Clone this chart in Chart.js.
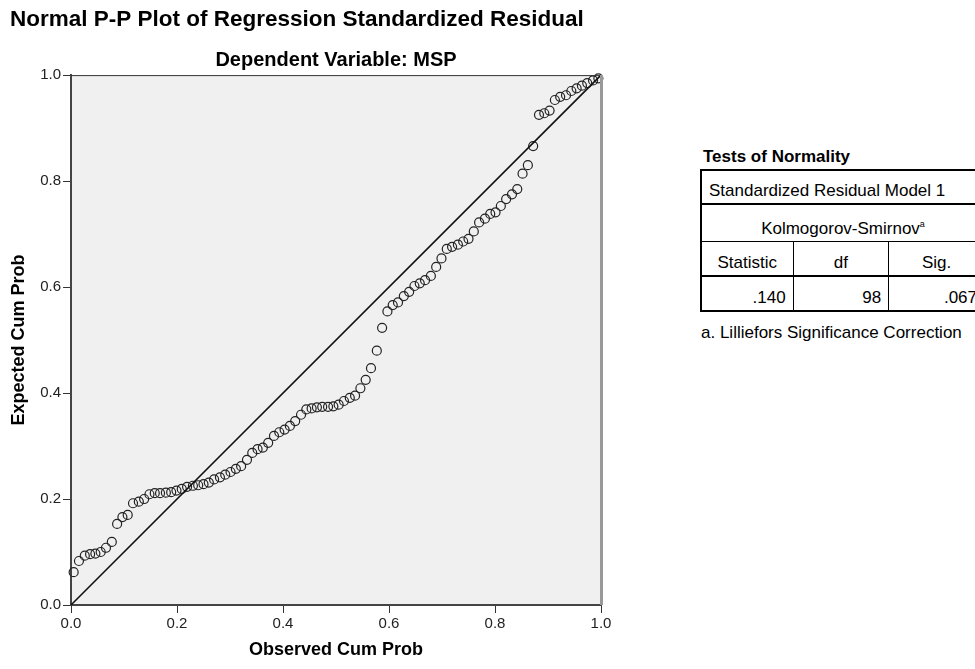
<!DOCTYPE html>
<html>
<head>
<meta charset="utf-8">
<title>Normal P-P Plot</title>
<script src="https://cdn.jsdelivr.net/npm/chart.js@4.4.1/dist/chart.umd.min.js"></script>
<style>
  body {
    margin: 0;
    width: 975px;
    height: 669px;
    overflow: hidden;
    background: #fff;
    position: relative;
    font-family: "Liberation Sans", Arial, sans-serif;
    color: #000;
  }
  #plotBox { position: absolute; left: 10px; top: 0; width: 610px; height: 669px; }
  #normTitle {
    position: absolute; left: 703px; top: 147px;
    font-weight: bold; font-size: 17px; line-height: 20px;
  }
  #normTable {
    position: absolute; left: 700px; top: 169px; width: 284px;
    border-collapse: collapse; font-size: 17px; line-height: 19px;
    border-left: 2px solid #000;
  }
  #normTable td { vertical-align: bottom; padding: 0 7px 3px 7px; white-space: nowrap; }
  #normTable tr { border-bottom: 2px solid #000; }
  #normTable tr.first { border-top: 2px solid #000; }
  #normTable tr.thin { border-bottom: 1px solid #000; }
  #normTable td.sep { border-left: 1px solid #000; }
  #normTable .num { text-align: right; }
  #normTable .mid { text-align: center; }
  #normNote { position: absolute; left: 701px; top: 323px; font-size: 17px; line-height: 20px; }
  sup { font-size: 9px; vertical-align: 7px; line-height: 0; }
</style>
</head>
<body>
<div id="plotBox"><canvas id="ppChart" width="610" height="669"></canvas></div>
<div id="normTitle">Tests of Normality</div>
<table id="normTable"></table>
<div id="normNote"></div>

<script>
// observed cumulative probability (x) and expected cumulative probability (y), 98 residuals
const observedProb = [
  0.005, 0.015, 0.026, 0.036, 0.046, 0.056, 0.066, 0.077, 0.087, 0.097,
  0.107, 0.117, 0.128, 0.138, 0.148, 0.158, 0.168, 0.179, 0.189, 0.199,
  0.209, 0.219, 0.230, 0.240, 0.250, 0.260, 0.270, 0.281, 0.291, 0.301,
  0.311, 0.321, 0.332, 0.342, 0.352, 0.362, 0.372, 0.383, 0.393, 0.403,
  0.413, 0.423, 0.434, 0.444, 0.454, 0.464, 0.474, 0.485, 0.495, 0.505,
  0.515, 0.526, 0.536, 0.546, 0.556, 0.566, 0.577, 0.587, 0.597, 0.607,
  0.617, 0.628, 0.638, 0.648, 0.658, 0.668, 0.679, 0.689, 0.699, 0.709,
  0.719, 0.730, 0.740, 0.750, 0.760, 0.770, 0.781, 0.791, 0.801, 0.811,
  0.821, 0.832, 0.842, 0.852, 0.862, 0.872, 0.883, 0.893, 0.903, 0.913,
  0.923, 0.934, 0.944, 0.954, 0.964, 0.974, 0.985, 0.995
];
const expectedProb = [
  0.062, 0.083, 0.093, 0.096, 0.097, 0.100, 0.108, 0.119, 0.153, 0.166,
  0.170, 0.192, 0.195, 0.200, 0.209, 0.211, 0.211, 0.212, 0.213, 0.216,
  0.219, 0.223, 0.225, 0.226, 0.228, 0.231, 0.237, 0.241, 0.246, 0.251,
  0.257, 0.262, 0.274, 0.287, 0.294, 0.297, 0.306, 0.319, 0.326, 0.331,
  0.338, 0.347, 0.359, 0.369, 0.371, 0.373, 0.374, 0.374, 0.375, 0.378,
  0.385, 0.391, 0.395, 0.409, 0.425, 0.447, 0.480, 0.523, 0.554, 0.566,
  0.571, 0.583, 0.591, 0.602, 0.607, 0.613, 0.621, 0.638, 0.654, 0.672,
  0.676, 0.680, 0.686, 0.691, 0.705, 0.722, 0.729, 0.738, 0.741, 0.753,
  0.766, 0.775, 0.785, 0.814, 0.830, 0.866, 0.925, 0.928, 0.933, 0.953,
  0.959, 0.962, 0.970, 0.975, 0.980, 0.985, 0.990, 0.994
];
const refLine = [0, 1];
const tickValues = [0, 0.2, 0.4, 0.6, 0.8, 1.0];

// Tests of Normality table
const normSubject = 'Standardized Residual Model 1';
const normTest = 'Kolmogorov-Smirnov';
const normColumns = ['Statistic', 'df', 'Sig.'];
const normValues = ['.140', '98', '.067'];
const normFootnote = 'a. Lilliefors Significance Correction';

const fontFamily = '"Liberation Sans", Arial, sans-serif';

const buildTable = () => {
    const rows = [
        `<tr class="first" style="height:34px"><td colspan="3">${normSubject}</td></tr>`,
        `<tr class="thin" style="height:37px"><td colspan="3" class="mid">${normTest}<sup>a</sup></td></tr>`,
        `<tr style="height:35px">` + normColumns.map((c, i) =>
            `<td class="mid${i ? ' sep' : ''}" style="width:${[77, 82, 82][i]}px">${c}</td>`).join('') + `</tr>`,
        `<tr style="height:35px">` + normValues.map((v, i) =>
            `<td class="num${i ? ' sep' : ''}">${v}</td>`).join('') + `</tr>`
    ];
    document.getElementById('normTable').innerHTML = rows.join('');
    document.getElementById('normNote').textContent = normFootnote;
};
buildTable();

const points = observedProb.map((x, i) => ({ x: x, y: expectedProb[i] }));
const diagonal = refLine.map(v => ({ x: v, y: v }));

// grey plot background plus the top / right frame lines
const plotFrame = {
    id: 'plotFrame',
    beforeDraw: (chart) => {
        const { ctx, chartArea: a } = chart;
        ctx.save();
        ctx.fillStyle = '#f0f0f0';
        ctx.fillRect(a.left, a.top, a.right - a.left, a.bottom - a.top);
        ctx.restore();
    },
    afterDraw: (chart) => {
        const { ctx, chartArea: a } = chart;
        ctx.save();
        ctx.strokeStyle = '#333';
        ctx.lineWidth = 1;
        ctx.beginPath();
        ctx.moveTo(a.left, a.top + 0.5);
        ctx.lineTo(a.right, a.top + 0.5);
        ctx.stroke();
        ctx.strokeStyle = '#999';
        ctx.lineWidth = 3;
        ctx.beginPath();
        ctx.moveTo(a.right + 0.5, a.top);
        ctx.lineTo(a.right + 0.5, a.bottom);
        ctx.stroke();
        ctx.restore();
    }
};

const axisTicks = (scale) => {
    scale.ticks = tickValues.map(v => ({ value: v }));
};

new Chart(document.getElementById('ppChart'), {
    type: 'scatter',
    data: {
        datasets: [
            {
                type: 'line',
                data: diagonal,
                borderColor: '#111',
                borderWidth: 1.6,
                pointRadius: 0,
                fill: false,
                clip: false
            },
            {
                data: points,
                pointRadius: 4.5,
                pointBorderWidth: 1.2,
                pointBorderColor: '#222',
                pointBackgroundColor: 'rgba(0,0,0,0)',
                clip: false
            }
        ]
    },
    plugins: [plotFrame],
    options: {
        responsive: false,
        animation: false,
        events: [],
        layout: { padding: { left: 0, right: 19, top: 0, bottom: 0 } },
        plugins: {
            legend: { display: false },
            tooltip: { enabled: false },
            title: {
                display: true,
                text: 'Normal P-P Plot of Regression Standardized Residual',
                align: 'start',
                color: '#000',
                font: { family: fontFamily, size: 22.5, weight: 'bold', lineHeight: 1.2 },
                padding: { top: 6, bottom: 7.5 }
            },
            subtitle: {
                display: true,
                text: 'Dependent Variable: MSP',
                fullSize: false,
                color: '#000',
                font: { family: fontFamily, size: 20, weight: 'bold', lineHeight: 1.2 },
                padding: { top: 7.6, bottom: 3 }
            }
        },
        scales: {
            x: {
                type: 'linear',
                min: 0,
                max: 1,
                afterBuildTicks: axisTicks,
                afterFit: (scale) => { scale.height = 64; },
                ticks: {
                    callback: (v) => v.toFixed(1),
                    color: '#222',
                    font: { family: fontFamily, size: 15 },
                    padding: 2,
                    maxRotation: 0,
                    autoSkip: false
                },
                grid: { drawOnChartArea: false, drawTicks: true, tickLength: 8, color: '#333' },
                border: { display: true, color: '#444', width: 2 },
                title: {
                    display: true,
                    text: 'Observed Cum Prob',
                    color: '#000',
                    font: { family: fontFamily, size: 18, weight: 'bold', lineHeight: 1.2 },
                    padding: { top: 0, bottom: 8 }
                }
            },
            y: {
                type: 'linear',
                min: 0,
                max: 1,
                afterBuildTicks: axisTicks,
                afterFit: (scale) => { scale.width = 61; },
                ticks: {
                    callback: (v) => v.toFixed(1),
                    color: '#222',
                    font: { family: fontFamily, size: 15 },
                    padding: 2,
                    autoSkip: false
                },
                grid: { drawOnChartArea: false, drawTicks: true, tickLength: 8, color: '#333' },
                border: { display: true, color: '#444', width: 2 },
                title: {
                    display: true,
                    text: 'Expected Cum Prob',
                    color: '#000',
                    font: { family: fontFamily, size: 18, weight: 'bold', lineHeight: 1 },
                    padding: { top: 0, bottom: 0 }
                }
            }
        }
    }
});
</script>
</body>
</html>
